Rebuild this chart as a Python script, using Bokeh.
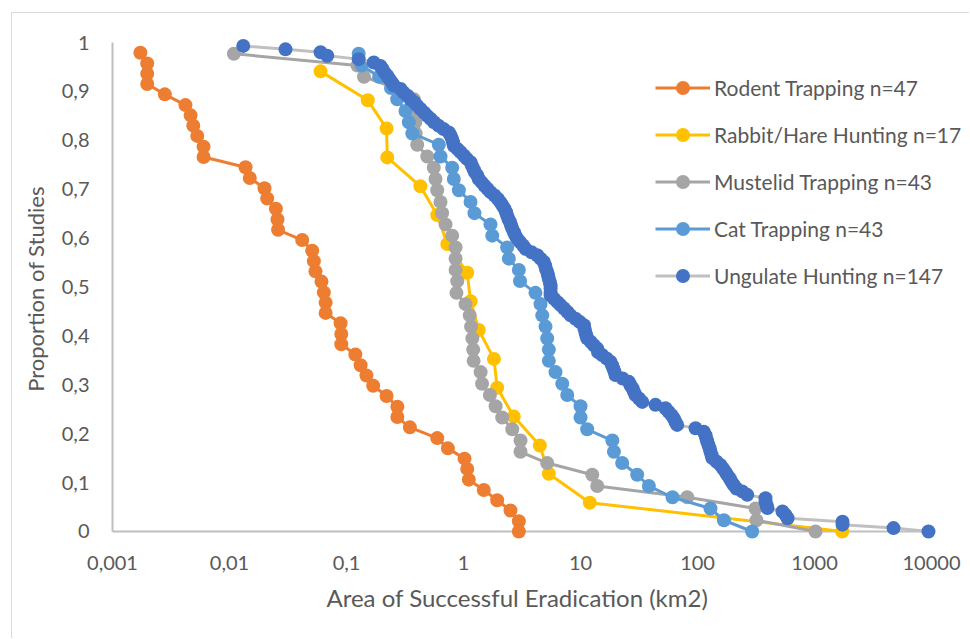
from bokeh.plotting import figure
from bokeh.models import Range1d, FixedTicker, Legend, LegendItem, Title
from bokeh.embed import file_html
from bokeh.resources import INLINE

# ---------------- data ----------------
rodent_area = [0.00173, 0.00198, 0.00198, 0.00198, 0.0028, 0.0042, 0.00465, 0.0049, 0.0053, 0.006,
               0.006, 0.0137, 0.0149, 0.0199, 0.021, 0.0249, 0.0257, 0.026, 0.0418, 0.0509,
               0.0526, 0.0543, 0.0611, 0.064, 0.0663, 0.0663, 0.089, 0.0902, 0.0902, 0.119,
               0.132, 0.148, 0.169, 0.22, 0.272, 0.272, 0.348, 0.596, 0.735, 1.02,
               1.076, 1.11, 1.49, 1.94, 2.52, 2.97, 2.97]
rodent_prop = [0.979, 0.957, 0.936, 0.915, 0.894, 0.872, 0.851, 0.830, 0.809, 0.787,
               0.766, 0.745, 0.723, 0.702, 0.681, 0.660, 0.638, 0.617, 0.596, 0.574,
               0.553, 0.532, 0.511, 0.489, 0.468, 0.447, 0.426, 0.404, 0.383, 0.362,
               0.340, 0.319, 0.298, 0.277, 0.255, 0.234, 0.213, 0.191, 0.170, 0.149,
               0.128, 0.106, 0.085, 0.064, 0.043, 0.021, 0.0]

rabbit_area = [0.06, 0.152, 0.22, 0.223, 0.428, 0.596, 0.727, 1.076, 1.148, 1.35,
               1.82, 1.94, 2.69, 4.49, 5.36, 12.0, 1725]
rabbit_prop = [0.941, 0.882, 0.824, 0.765, 0.706, 0.647, 0.588, 0.529, 0.471, 0.412,
               0.353, 0.294, 0.235, 0.176, 0.118, 0.059, 0.0]

mustelid_area = [0.0109, 0.124, 0.141, 0.262, 0.376, 0.38, 0.387, 0.39, 0.402, 0.49,
                 0.557, 0.576, 0.596, 0.636, 0.656, 0.702, 0.80, 0.855, 0.855, 0.855,
                 0.884, 0.87, 1.04, 1.13, 1.16, 1.19, 1.21, 1.22, 1.40, 1.44,
                 1.68, 1.88, 2.14, 2.61, 3.07, 3.07, 5.19, 12.6, 13.9, 81.7,
                 313, 319, 1020]
cat_area = [0.127, 0.135, 0.19, 0.24, 0.271, 0.319, 0.341, 0.365, 0.615, 0.636,
            0.80, 0.826, 0.912, 1.148, 1.24, 1.70, 1.76, 2.36, 2.44, 2.97,
            3.04, 4.12, 4.55, 4.71, 5.02, 5.19, 5.36, 5.36, 6.11, 6.98,
            7.70, 10.0, 10.0, 11.4, 18.7, 19.3, 22.7, 30.5, 38.4, 61.1,
            129, 168, 293]
n43_prop = [0.977, 0.953, 0.930, 0.907, 0.884, 0.860, 0.837, 0.814, 0.791, 0.767,
            0.744, 0.721, 0.698, 0.674, 0.651, 0.628, 0.605, 0.581, 0.558, 0.535,
            0.512, 0.488, 0.465, 0.442, 0.419, 0.395, 0.372, 0.349, 0.326, 0.302,
            0.279, 0.256, 0.233, 0.209, 0.186, 0.163, 0.140, 0.116, 0.093, 0.070,
            0.047, 0.023, 0.0]

ungulate_area = [0.0131, 0.0301, 0.060, 0.0684, 0.127, 0.171, 0.195, 0.203, 0.211, 0.223,
                 0.233, 0.245, 0.254, 0.290, 0.307, 0.332, 0.352, 0.378, 0.402, 0.429,
                 0.460, 0.490, 0.522, 0.560, 0.611, 0.675, 0.749, 0.774, 0.798, 0.813,
                 0.826, 0.889, 0.942, 1.006, 1.07, 1.148, 1.18, 1.22, 1.25, 1.31,
                 1.35, 1.43, 1.51, 1.60, 1.70, 1.84, 1.97, 2.07, 2.15, 2.24,
                 2.31, 2.36, 2.42, 2.50, 2.55, 2.61, 2.70, 2.78, 2.88, 3.04,
                 3.23, 3.39, 3.81, 4.27, 4.55, 4.86, 4.98, 5.07, 5.19, 5.27,
                 5.36, 5.46, 5.55, 5.55, 5.55, 5.55, 5.94, 6.36, 6.75, 7.23,
                 7.74, 8.22, 9.06, 9.80, 10.7, 10.8, 11.0, 11.2, 11.4, 12.2,
                 13.0, 13.9, 14.1, 15.3, 16.7, 18.0, 18.6, 19.1, 19.5, 19.9,
                 22.9, 25.9, 26.7, 27.8, 28.6, 29.5, 31.6, 33.7, 43.7, 53.2,
                 56.5, 60.0, 62.7, 64.9, 67.0, 96.2, 113, 117, 119, 121,
                 124, 127, 129, 132, 134, 145, 157, 165, 173, 179,
                 188, 195, 204, 215, 241, 266, 381, 381, 389, 396,
                 532, 565, 588, 1735, 1735, 4732, 9420]
ungulate_prop = [0.993, 0.986, 0.980, 0.973, 0.966, 0.959, 0.952, 0.946, 0.939, 0.932,
                 0.925, 0.918, 0.912, 0.905, 0.898, 0.891, 0.884, 0.878, 0.871, 0.864,
                 0.857, 0.850, 0.844, 0.837, 0.830, 0.823, 0.816, 0.810, 0.803, 0.796,
                 0.789, 0.782, 0.776, 0.769, 0.762, 0.755, 0.748, 0.741, 0.735, 0.728,
                 0.721, 0.714, 0.707, 0.701, 0.694, 0.687, 0.680, 0.673, 0.667, 0.660,
                 0.653, 0.646, 0.639, 0.633, 0.626, 0.619, 0.612, 0.605, 0.599, 0.592,
                 0.585, 0.578, 0.571, 0.565, 0.558, 0.551, 0.544, 0.537, 0.531, 0.524,
                 0.517, 0.510, 0.503, 0.497, 0.490, 0.483, 0.476, 0.469, 0.463, 0.456,
                 0.449, 0.442, 0.435, 0.429, 0.422, 0.415, 0.408, 0.401, 0.395, 0.388,
                 0.381, 0.374, 0.367, 0.361, 0.354, 0.347, 0.340, 0.333, 0.327, 0.320,
                 0.313, 0.306, 0.299, 0.293, 0.286, 0.279, 0.272, 0.265, 0.259, 0.252,
                 0.245, 0.238, 0.231, 0.224, 0.218, 0.211, 0.204, 0.197, 0.190, 0.184,
                 0.177, 0.170, 0.163, 0.156, 0.150, 0.143, 0.136, 0.129, 0.122, 0.116,
                 0.109, 0.102, 0.095, 0.088, 0.082, 0.075, 0.068, 0.061, 0.054, 0.048,
                 0.041, 0.034, 0.027, 0.020, 0.014, 0.007, 0.0]

x_ticks = [0.001, 0.01, 0.1, 1, 10, 100, 1000, 10000]
x_tick_labels = ["0,001", "0,01", "0,1", "1", "10", "100", "1000", "10000"]
y_ticks = [0, 0.1, 0.2, 0.3, 0.4, 0.5, 0.6, 0.7, 0.8, 0.9, 1]
y_tick_labels = ["0", "0,1", "0,2", "0,3", "0,4", "0,5", "0,6", "0,7", "0,8", "0,9", "1"]

series = [
    ("Rodent Trapping n=47", rodent_area, rodent_prop, "#ED7D31", "#ED7D31"),
    ("Rabbit/Hare Hunting n=17", rabbit_area, rabbit_prop, "#FFC000", "#FFC000"),
    ("Mustelid Trapping n=43", mustelid_area, n43_prop, "#A5A5A5", "#A5A5A5"),
    ("Cat Trapping n=43", cat_area, n43_prop, "#5B9BD5", "#5B9BD5"),
    ("Ungulate Hunting n=147", ungulate_area, ungulate_prop, "#C0C0C0", "#4472C4"),
]
for s in series:
    assert len(s[1]) == len(s[2]), s[0]

FONT = "Lato"
TXT = "#595959"

p = figure(width=958, height=626, x_axis_type="log",
           x_range=Range1d(0.000924, 20700), y_range=Range1d(-0.02045, 1.01227),
           output_backend="svg", toolbar_location=None,
           min_border_left=96, min_border_right=2, min_border_top=23, min_border_bottom=98)
p.margin = (12, 0, 0, 11)
p.styles = {"border-top": "1px solid #D9D9D9", "border-left": "1px solid #D9D9D9"}
p.outline_line_color = None
p.background_fill_color = "white"
p.border_fill_color = "white"
p.xgrid.visible = False
p.ygrid.visible = False

# axis lines drawn in data space (axes of the figure keep only labels)
p.line([x_ticks[0], x_ticks[-1]], [0, 0], line_color="#BFBFBF", line_width=2)
p.line([x_ticks[0], x_ticks[0]], [0, 1], line_color="#BFBFBF", line_width=2)

items = []
for label, xs, ys, lc, mc in series:
    lr = p.line(xs, ys, line_color=lc, line_width=3)
    sr = p.scatter(xs, ys, size=14, fill_color=mc, line_color=mc, line_width=0)
    items.append(LegendItem(label=label, renderers=[lr, sr]))

for ax in (p.xaxis[0], p.yaxis[0]):
    ax.axis_line_color = None
    ax.major_tick_line_color = None
    ax.minor_tick_line_color = None
    ax.major_tick_out = 0
    ax.major_tick_in = 0
    ax.major_label_text_font = FONT
    ax.major_label_text_font_size = "20px"
    ax.major_label_text_color = TXT
    ax.axis_label_text_font = FONT
    ax.axis_label_text_font_style = "normal"
    ax.axis_label_text_color = TXT

p.xaxis.ticker = FixedTicker(ticks=x_ticks)
p.xaxis.major_label_overrides = dict(zip(x_ticks, x_tick_labels))
p.xaxis.major_label_standoff = 14

# x-axis title, centred under the plotted axis span (0,001 .. 10000)
p.add_layout(Title(text="Area of Successful Eradication (km2)", align="left", offset=218,
                   standoff=17, text_font=FONT, text_font_size="24px",
                   text_font_style="normal", text_color=TXT), "below")

p.yaxis.ticker = FixedTicker(ticks=y_ticks)
p.yaxis.major_label_overrides = dict(zip(y_ticks, y_tick_labels))
p.yaxis.major_label_standoff = 19
p.yaxis.axis_label = "Proportion of Studies"
p.yaxis.axis_label_text_font_size = "22px"
p.yaxis.axis_label_standoff = 10

legend = Legend(items=items, location=(547, 248),
                label_text_font=FONT, label_text_font_size="21px", label_text_color=TXT,
                glyph_width=55, glyph_height=35, label_height=35, spacing=12,
                label_standoff=4, padding=0, margin=0,
                border_line_color=None, background_fill_alpha=0)
p.add_layout(legend, "center")

open("out.html", "w").write(file_html(p, INLINE))
